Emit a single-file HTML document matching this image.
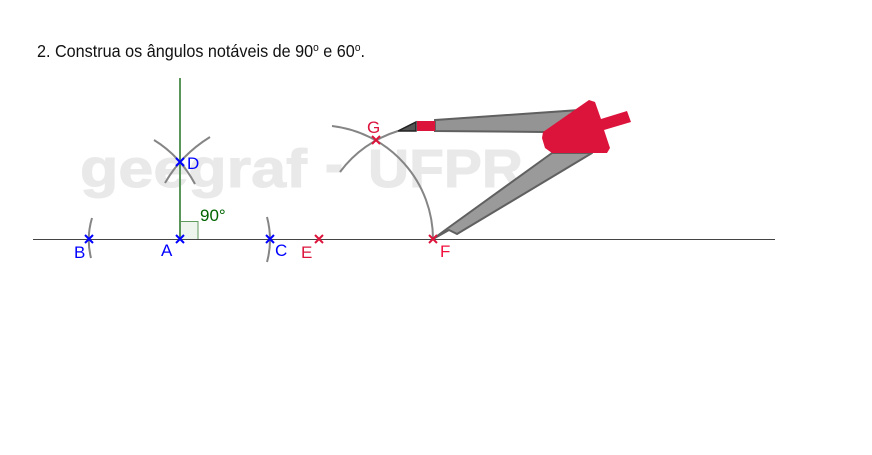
<!DOCTYPE html>
<html lang="pt">
<head>
<meta charset="utf-8">
<title>Ângulos notáveis</title>
<style>
html,body{margin:0;padding:0;background:#fff;width:872px;height:455px;overflow:hidden}
svg{display:block}
text{font-family:"Liberation Sans",sans-serif}
</style>
</head>
<body>
<svg width="872" height="455" viewBox="0 0 872 455" xmlns="http://www.w3.org/2000/svg">
  <text x="37" y="57" font-size="17.5" fill="#111" textLength="328" lengthAdjust="spacingAndGlyphs">2. Construa os ângulos notáveis de 90<tspan font-size="11" dy="-6">o</tspan><tspan dy="6"> e 60</tspan><tspan font-size="11" dy="-6">o</tspan><tspan dy="6">.</tspan></text>

  <g font-size="54" font-weight="bold" fill="#e9e9e9" stroke="#e9e9e9" stroke-width="1">
    <text x="80" y="187" textLength="227" lengthAdjust="spacingAndGlyphs">geegraf</text>
    <rect x="327" y="165" width="14" height="7"/>
    <text x="368" y="187" textLength="155" lengthAdjust="spacingAndGlyphs">UFPR</text>
  </g>

  <rect x="180" y="221.5" width="18" height="18" fill="#eef5ee" stroke="#5f9a5f" stroke-width="1"/>
  <line x1="33" y1="239.5" x2="775" y2="239.5" stroke="#444" stroke-width="1"/>
  <line x1="180" y1="78" x2="180" y2="239" stroke="#5a965a" stroke-width="2"/>

  <g fill="none" stroke="#858585" stroke-width="2">
    <path d="M92 218 Q86 238 91 258"/>
    <path d="M267 217 Q273 240 267 262"/>
    <path d="M154 140 Q180 156 195 184"/>
    <path d="M210 137 Q181 155 165 183"/>
    <path d="M332 126 A114 114 0 0 1 433 239"/>
    <path d="M340 172 A114 114 0 0 1 398 131"/>
  </g>

  <g>
    <polygon points="435,120 580,110 580,132 545,132 435,131" fill="#949494" stroke="#606060" stroke-width="2"/>
    <polygon points="398,131 416,122 416,131" fill="#555" stroke="#222" stroke-width="1.5"/>
    <rect x="417" y="121" width="18" height="10" fill="#dc143c"/>
    <polygon points="433,239 448,228 552,153 592,153 457,234 449,230" fill="#9a9a9a" stroke="#606060" stroke-width="2" stroke-linejoin="round"/>
    <polygon points="589,100 595,102 601,119 627,111 631,122 604,130 610,148 607,153 552,153 545,148 542,138 543,132" fill="#dc143c"/>
  </g>

  <g fill="none" stroke="#0000ff" stroke-width="2">
    <path d="M85 235l8 8m0-8l-8 8"/>
    <path d="M176 235l8 8m0-8l-8 8"/>
    <path d="M266 235l8 8m0-8l-8 8"/>
    <path d="M176 158l8 8m0-8l-8 8"/>
  </g>
  <g fill="none" stroke="#dc143c" stroke-width="2">
    <path d="M315 235l8 8m0-8l-8 8"/>
    <path d="M429 235l8 8m0-8l-8 8"/>
    <path d="M372 136l8 8m0-8l-8 8"/>
  </g>

  <g font-size="17">
    <text x="74" y="258" fill="#0000ff">B</text>
    <text x="161" y="256" fill="#0000ff">A</text>
    <text x="275" y="256" fill="#0000ff">C</text>
    <text x="187" y="169" fill="#0000ff">D</text>
    <text x="301" y="258" fill="#dc143c">E</text>
    <text x="440" y="257" fill="#f0103c">F</text>
    <text x="367" y="133" fill="#dc143c">G</text>
    <text x="200" y="221" fill="#006400">90°</text>
  </g>
</svg>
</body>
</html>
